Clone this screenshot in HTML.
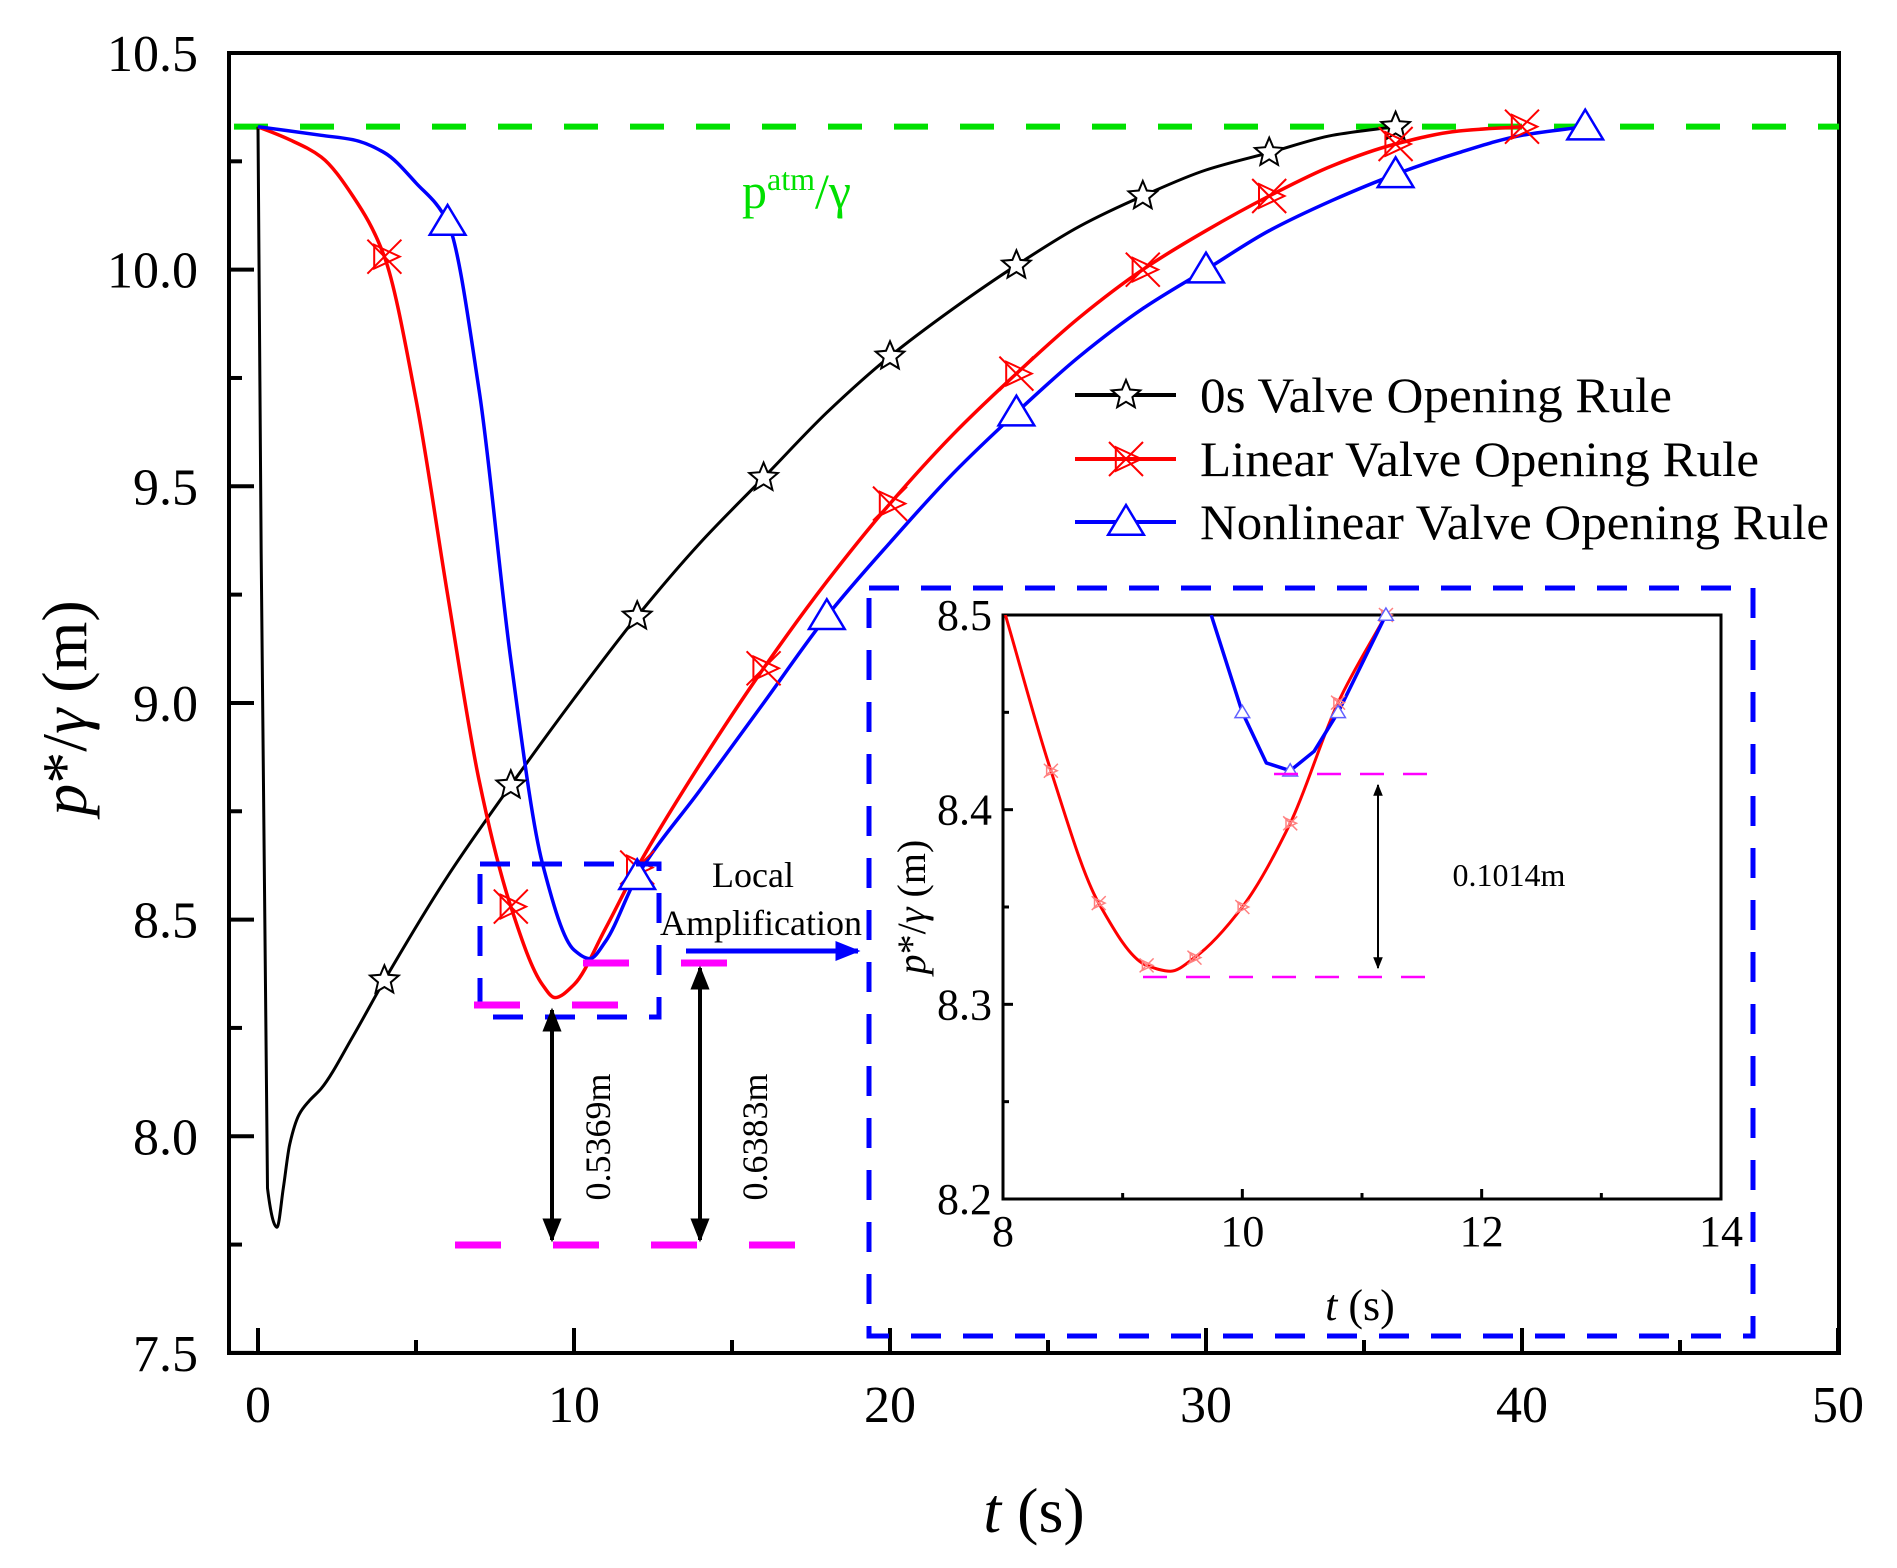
<!DOCTYPE html>
<html><head><meta charset="utf-8">
<style>
html,body{margin:0;padding:0;background:#fff;}
svg{display:block;font-family:"Liberation Serif",serif;}
</style></head>
<body>
<svg id="chart" width="1897" height="1568" viewBox="0 0 1897 1568" xmlns="http://www.w3.org/2000/svg">
<defs>
<clipPath id="plotClip"><rect x="229" y="55" width="1610" height="1296"/></clipPath>
<clipPath id="insetClip"><rect x="1003" y="615" width="718" height="584"/></clipPath>
<marker id="ah" viewBox="0 0 10 10" refX="9" refY="5" markerWidth="6" markerHeight="6" orient="auto-start-reverse"><path d="M0,1 L10,5 L0,9 z" fill="#000"/></marker>
<marker id="ahb" viewBox="0 0 10 10" refX="9" refY="5" markerWidth="5" markerHeight="5" orient="auto"><path d="M0,1 L10,5 L0,9 z" fill="#0000ff"/></marker>
</defs>
<g id="main"></g>
<g id="inset"></g>
</svg>
<script>
// ---- main chart data ----
const blackT = [0, 0.3, 0.6, 0.8, 1.0, 1.3, 1.6, 2, 3, 4, 6, 8, 10, 12, 14, 16, 18, 20, 22, 24, 26, 28, 30, 32, 34, 36];
const blackV = [10.33, 7.88, 7.79, 7.88, 7.98, 8.05, 8.08, 8.11, 8.23, 8.36, 8.6, 8.81, 9.01, 9.2, 9.37, 9.52, 9.67, 9.8, 9.91, 10.01, 10.1, 10.17, 10.23, 10.27, 10.31, 10.33];
const blackMarkT = [4, 8, 12, 16, 20, 24, 28, 32, 36];
const redT = [0, 1, 2, 3, 4, 5, 6, 7, 8, 9, 9.4, 10, 11, 12, 14, 16, 18, 20, 22, 24, 26, 28, 30, 32, 34, 36, 38, 40];
const redV = [10.33, 10.3, 10.26, 10.17, 10.03, 9.7, 9.25, 8.82, 8.53, 8.35, 8.32, 8.35, 8.48, 8.62, 8.86, 9.08, 9.28, 9.46, 9.62, 9.76, 9.89, 10.0, 10.09, 10.17, 10.24, 10.29, 10.32, 10.33];
const redMarkT = [4, 8, 12, 16, 20, 24, 28, 32, 36, 40];
const blueT = [0, 2, 3, 4, 5, 6, 7, 8, 9, 10, 10.5, 11, 12, 14, 16, 18, 20, 22, 24, 26, 28, 30, 32, 34, 36, 38, 40, 42];
const blueV = [10.33, 10.31, 10.3, 10.27, 10.2, 10.11, 9.72, 9.1, 8.63, 8.43, 8.41, 8.45, 8.6, 8.8, 9.0, 9.2, 9.37, 9.53, 9.67, 9.8, 9.91, 10.0, 10.09, 10.16, 10.22, 10.27, 10.31, 10.33];
const blueMarkT = [6, 12, 18, 24, 30, 36, 42];
const xTicks = [0, 10, 20, 30, 40, 50];
const yTicks = [7.5, 8.0, 8.5, 9.0, 9.5, 10.0, 10.5];
const atmValue = 10.33;
// ---- inset data ----
const insRedT = [8.02, 8.4, 8.8, 9.2, 9.4, 9.6, 10, 10.4, 10.8, 11.2];
const insRedV = [8.5, 8.42, 8.352, 8.32, 8.317, 8.324, 8.35, 8.393, 8.455, 8.5];
const insRedMarkT = [8.4, 8.8, 9.2, 9.6, 10, 10.4, 10.8, 11.2];
const insBlueT = [9.74, 10.0, 10.2, 10.4, 10.6, 10.8, 11.2];
const insBlueV = [8.5, 8.45, 8.424, 8.42, 8.43, 8.45, 8.5];
const insBlueMarkT = [10.0, 10.4, 10.8, 11.2];
const insXTicks = [8, 10, 12, 14];
const insYTicks = [8.2, 8.3, 8.4, 8.5];

const NS = "http://www.w3.org/2000/svg";
function mk(parent, tag, attrs, text){
  const e = document.createElementNS(NS, tag);
  for (const k in attrs) e.setAttribute(k, attrs[k]);
  if (text !== undefined) e.textContent = text;
  parent.appendChild(e); return e;
}
function interp(ts, vs, t){
  for (let i=0;i<ts.length-1;i++){ if (t>=ts[i] && t<=ts[i+1]) return vs[i]+(vs[i+1]-vs[i])*(t-ts[i])/(ts[i+1]-ts[i]); }
  return vs[vs.length-1];
}
// monotone cubic (Fritsch-Carlson) path in pixel space
function smoothPath(pts){
  const n=pts.length, d=[], m=new Array(n);
  for(let i=0;i<n-1;i++) d.push((pts[i+1][1]-pts[i][1])/(pts[i+1][0]-pts[i][0]));
  m[0]=d[0]; m[n-1]=d[n-2];
  for(let i=1;i<n-1;i++){
    if(d[i-1]*d[i]<=0) m[i]=0;
    else { const h0=pts[i][0]-pts[i-1][0], h1=pts[i+1][0]-pts[i][0];
      const w1=2*h1+h0, w2=h1+2*h0; m[i]=(w1+w2)/(w1/d[i-1]+w2/d[i]); }
  }
  let s="M"+pts[0][0].toFixed(1)+","+pts[0][1].toFixed(1);
  for(let i=0;i<n-1;i++){
    const h=(pts[i+1][0]-pts[i][0])/3;
    s+=" C"+(pts[i][0]+h).toFixed(1)+","+(pts[i][1]+m[i]*h).toFixed(1)+" "+(pts[i+1][0]-h).toFixed(1)+","+(pts[i+1][1]-m[i+1]*h).toFixed(1)+" "+pts[i+1][0].toFixed(1)+","+pts[i+1][1].toFixed(1);
  }
  return s;
}
function star(g,x,y,r,col){
  let p=[];for(let i=0;i<10;i++){const a=-Math.PI/2+i*Math.PI/5;const rr=i%2?r*0.45:r;p.push((x+rr*Math.cos(a)).toFixed(1)+","+(y+rr*Math.sin(a)).toFixed(1));}
  return mk(g,"polygon",{points:p.join(" "),fill:"#fff",stroke:col,"stroke-width":2});
}
function xtri(g,x,y,r,col,sw){
  const grp = mk(g,"g",{});
  mk(grp,"path",{d:`M${x-r},${y-r} L${x+r},${y+r} M${x-r},${y+r} L${x+r},${y-r}`,stroke:col,"stroke-width":sw,fill:"none"});
  mk(grp,"polygon",{points:`${x-r*0.6},${y-r*0.7} ${x+r*0.9},${y} ${x-r*0.6},${y+r*0.7}`,stroke:col,"stroke-width":sw,fill:"none"});
  return grp;
}
function tri(g,x,y,r,col,sw){
  return mk(g,"polygon",{points:`${x},${y-r} ${x+r*1.05},${y+r*0.75} ${x-r*1.05},${y+r*0.75}`,fill:"#fff",stroke:col,"stroke-width":sw});
}

// ---- main ----
const M = document.getElementById("main");
const X0=229, X1=1839, Y0=53, Y1=1353;
const xS = t => 258 + t*31.6;
const yS = v => 53 + (10.5 - v)*433.3;

const axes = mk(M,"rect",{x:X0,y:Y0,width:X1-X0,height:Y1-Y0,fill:"none",stroke:"#000","stroke-width":4});


for (let t=0;t<=50;t+=5){
  const major = t%10===0;
  const tk = mk(M,"line",{x1:xS(t),x2:xS(t),y1:Y1,y2:Y1-(major?25:13),stroke:"#000","stroke-width":4});
  
  
}
xTicks.forEach(t=>{
  const l = mk(M,"text",{x:xS(t),y:1422,"font-size":52,"text-anchor":"middle"},String(t));
  
  
});
for (let v=7.5; v<=10.5001; v+=0.25){
  const major = Math.abs(v*2-Math.round(v*2))<1e-6;
  const tk = mk(M,"line",{x1:X0,x2:X0+(major?25:13),y1:yS(v),y2:yS(v),stroke:"#000","stroke-width":4});
  
  
}
yTicks.forEach(v=>{
  const l = mk(M,"text",{x:198,y:yS(v)+18,"font-size":52,"text-anchor":"end"},v.toFixed(1));
  
  
});
const xt = mk(M,"text",{x:1034,y:1532,"font-size":64,"text-anchor":"middle"});


xt.innerHTML = '<tspan font-style="italic">t</tspan> (s)';
const yt = mk(M,"text",{x:0,y:0,"font-size":64,"text-anchor":"middle",transform:"translate(86,708) rotate(-90)"});


yt.innerHTML = '<tspan font-style="italic">p</tspan>*/<tspan font-style="italic">γ</tspan> (m)';

const atm = mk(M,"line",{x1:X0,x2:X1,y1:yS(atmValue),y2:yS(atmValue),stroke:"#00e000","stroke-width":6,"stroke-dasharray":"34 32","stroke-dashoffset":-5});


const atmL = mk(M,"text",{x:742,y:208,"font-size":50,fill:"#00e000"});


atmL.innerHTML = 'p<tspan dy="-18" font-size="32">atm</tspan><tspan dy="18">/γ</tspan>';

const series = [
  {T:blackT,V:blackV,MT:blackMarkT,col:"#000",name:"black-0s-rule",w:3,mk:"star"},
  {T:redT,V:redV,MT:redMarkT,col:"#ff0000",name:"red-linear-rule",w:3.5,mk:"xtri"},
  {T:blueT,V:blueV,MT:blueMarkT,col:"#0000ff",name:"blue-nonlinear-rule",w:3.5,mk:"tri"}
];
const sg = mk(M,"g",{"clip-path":"url(#plotClip)"});
series.forEach(s=>{
  const pts = s.T.map((t,i)=>[xS(t),yS(s.V[i])]);
  const line = mk(sg,"path",{d:smoothPath(pts),fill:"none",stroke:s.col,"stroke-width":s.w,"stroke-linejoin":"round"});
  
  
});
series.forEach(s=>{
  s.MT.forEach(t=>{
    const x=xS(t), y=yS(interp(s.T,s.V,t));
    let m;
    if (s.mk==="star") m=star(M,x,y,15,s.col);
    else if (s.mk==="xtri") m=xtri(M,x,y,17,s.col,2);
    else m=tri(M,x,y,17,s.col,2.5);
    
    
  });
});

// legend
const leg = mk(M,"g",{});


const legItems=[["0s Valve Opening Rule","#000","star",395,472],["Linear Valve Opening Rule","#ff0000","xtri",459,559],["Nonlinear Valve Opening Rule","#0000ff","tri",522,629]];
legItems.forEach(it=>{
  const e = mk(leg,"g",{});
  
  
  mk(e,"line",{x1:1075,x2:1176,y1:it[3],y2:it[3],stroke:it[1],"stroke-width":4});
  if(it[2]==="star") star(e,1126,it[3],15,it[1]);
  else if(it[2]==="xtri") xtri(e,1126,it[3],17,it[1],2);
  else tri(e,1126,it[3],17,it[1],2.5);
  mk(e,"text",{x:1200,y:it[3]+17,"font-size":50,textLength:it[4],lengthAdjust:"spacingAndGlyphs"},it[0]);
});

// annotations
const ann = mk(M,"g",{});


const zb = mk(ann,"rect",{x:480,y:864,width:179,height:153,fill:"none",stroke:"#0000ff","stroke-width":5,"stroke-dasharray":"30 22"});


[[474,619,1005],[583,728,963],[455,795,1245]].forEach(d=>{
  const l=mk(ann,"line",{x1:d[0],x2:d[1],y1:d[2],y2:d[2],stroke:"#ff00ff","stroke-width":7,"stroke-dasharray":"46 52"});
  
  
});
mk(ann,"line",{x1:552,x2:552,y1:1010,y2:1240,stroke:"#000","stroke-width":4,"marker-start":"url(#ah)","marker-end":"url(#ah)"});
mk(ann,"line",{x1:700,x2:700,y1:968,y2:1240,stroke:"#000","stroke-width":4,"marker-start":"url(#ah)","marker-end":"url(#ah)"});
const t1=mk(ann,"text",{x:0,y:0,"font-size":36,"text-anchor":"middle",transform:"translate(610,1137) rotate(-90)"},"0.5369m");


const t2=mk(ann,"text",{x:0,y:0,"font-size":36,"text-anchor":"middle",transform:"translate(767,1137) rotate(-90)"},"0.6383m");


const la=mk(ann,"text",{x:753,y:887,"font-size":36,"text-anchor":"middle"},"Local");


mk(ann,"text",{x:761,y:935,"font-size":36,"text-anchor":"middle"},"Amplification");
mk(ann,"line",{x1:686,x2:858,y1:951,y2:951,stroke:"#0000ff","stroke-width":5,"marker-end":"url(#ahb)"});
const ob = mk(ann,"rect",{x:869,y:588,width:884,height:748,fill:"none",stroke:"#0000ff","stroke-width":5,"stroke-dasharray":"30 22"});



// ---- inset ----
const I = document.getElementById("inset");


const iX0=1003, iX1=1721, iY0=615, iY1=1199;
const ixS = t => iX0 + (t-8)*(iX1-iX0)/6;
const iyS = v => iY0 + (8.5-v)*(iY1-iY0)/0.3;
mk(I,"rect",{x:iX0,y:iY0,width:iX1-iX0,height:iY1-iY0,fill:"#fff",stroke:"#000","stroke-width":3});
for (let t=8;t<=14;t+=1){
  const major=t%2===0;
  mk(I,"line",{x1:ixS(t),x2:ixS(t),y1:iY1,y2:iY1-(major?10:6),stroke:"#000","stroke-width":3});
}
for (let k=0;k<=6;k++){
  const v=8.2+k*0.05, major=k%2===0;
  mk(I,"line",{x1:iX0,x2:iX0+(major?10:6),y1:iyS(v),y2:iyS(v),stroke:"#000","stroke-width":3});
}
insXTicks.forEach(t=>{
  const l=mk(I,"text",{x:ixS(t),y:1246,"font-size":44,"text-anchor":"middle"},String(t));
  
  
});
insYTicks.forEach(v=>{
  const l=mk(I,"text",{x:992,y:iyS(v)+15,"font-size":44,"text-anchor":"end"},v.toFixed(1));
  
  
});
const ixt=mk(I,"text",{x:1360,y:1320,"font-size":44,"text-anchor":"middle"});


ixt.innerHTML='<tspan font-style="italic">t</tspan> (s)';
const iyt=mk(I,"text",{x:0,y:0,"font-size":40,"text-anchor":"middle",transform:"translate(925,907) rotate(-90)"});


iyt.innerHTML='<tspan font-style="italic">p</tspan>*/<tspan font-style="italic">γ</tspan> (m)';
const ig = mk(I,"g",{"clip-path":"url(#insetClip)"});
const ir = mk(ig,"path",{d:smoothPath(insRedT.map((t,i)=>[ixS(t),iyS(insRedV[i])])),fill:"none",stroke:"#ff0000","stroke-width":3});


const ib = mk(ig,"polyline",{points:insBlueT.map((t,i)=>ixS(t).toFixed(1)+","+iyS(insBlueV[i]).toFixed(1)).join(" "),fill:"none",stroke:"#0000ff","stroke-width":3.5,"stroke-linejoin":"round"});


insRedMarkT.forEach(t=>{
  const m=xtri(I,ixS(t),iyS(interp(insRedT,insRedV,t)),7,"#ff8080",1.5);
  
  
});
insBlueMarkT.forEach(t=>{
  const m=tri(I,ixS(t),iyS(interp(insBlueT,insBlueV,t)),7,"#6060ff",1.5);
  
  
});
mk(I,"line",{x1:1274,x2:1430,y1:774,y2:774,stroke:"#ff00ff","stroke-width":2.5,"stroke-dasharray":"24 19"});
mk(I,"line",{x1:1143,x2:1430,y1:977,y2:977,stroke:"#ff00ff","stroke-width":2.5,"stroke-dasharray":"24 19"});
mk(I,"line",{x1:1378,x2:1378,y1:785,y2:968,stroke:"#000","stroke-width":2,"marker-start":"url(#ah)","marker-end":"url(#ah)"});
const il=mk(I,"text",{x:1509,y:886,"font-size":32,"text-anchor":"middle"},"0.1014m");


</script>
</body></html>
